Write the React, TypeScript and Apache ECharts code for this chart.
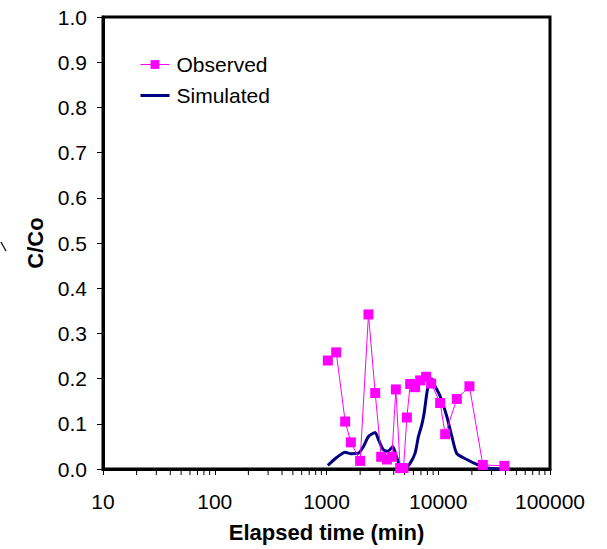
import React, { useEffect, useRef } from "react";
import * as echarts from "echarts";

const observedTime = [1028, 1222, 1469, 1652, 2000, 2375, 2728, 3086, 3470, 3846, 4176, 4563, 4888, 5240, 5610, 6210, 6887, 7795, 8643, 10400, 11530, 14670, 19010, 25060, 39100];
const observedC = [0.240, 0.258, 0.105, 0.059, 0.018, 0.342, 0.168, 0.027, 0.021, 0.027, 0.176, 0.002, 0.002, 0.114, 0.188, 0.181, 0.196, 0.204, 0.189, 0.146, 0.077, 0.155, 0.183, 0.009, 0.007];

const simTime = [1028, 1240, 1469, 1630, 1933, 2143, 2375, 2728, 2918, 3192, 3513, 3926, 4265, 4563, 5060, 5610, 6210, 6650, 7130, 7480, 7910, 8300, 8770, 9380, 10400, 11940, 13240, 14670, 18030, 22150, 27220, 35810];
const simC = [0.008, 0.026, 0.037, 0.034, 0.035, 0.050, 0.072, 0.081, 0.065, 0.044, 0.039, 0.049, 0.024, 0.006, 0.002, 0.013, 0.035, 0.072, 0.098, 0.124, 0.168, 0.194, 0.199, 0.183, 0.161, 0.116, 0.072, 0.034, 0.021, 0.010, 0.002, 0.000];

const minorTickValues = [20, 30, 40, 50, 60, 70, 80, 90, 200, 300, 400, 500, 600, 700, 800, 900, 2000, 3000, 4000, 5000, 6000, 7000, 8000, 9000, 20000, 30000, 40000, 50000, 60000, 70000, 80000, 90000];

const FONT = "Arial, 'Liberation Sans', sans-serif";

export default function App() {
  const ref = useRef<HTMLDivElement>(null);
  useEffect(() => {
    if (!ref.current) return;
    const chart = echarts.init(ref.current, undefined, { renderer: "svg" });
    chart.setOption({
      animation: false,
      backgroundColor: "#fff",
      textStyle: { fontFamily: FONT },
      grid: { left: 103, right: 57, top: 17, bottom: 80, show: true, borderColor: "#000", borderWidth: 3, backgroundColor: "transparent" },
      legend: {
        left: 134,
        top: 49,
        orient: "vertical",
        itemWidth: 29,
        itemHeight: 11,
        itemGap: 10,
        textStyle: { fontSize: 21, color: "#000", fontFamily: FONT, padding: [0, 0, 0, 2] },
        data: [
          { name: "Observed", lineStyle: { width: 1 } },
          { name: "Simulated", lineStyle: { width: 3, color: "#000080" }, itemStyle: { color: "rgba(0,0,0,0)", opacity: 0, borderWidth: 0 } },
        ],
      },
      xAxis: {
        type: "log",
        logBase: 10,
        min: 10,
        max: 100000,
        name: "Elapsed time (min)",
        nameLocation: "middle",
        nameGap: 52,
        nameTextStyle: { fontSize: 22, fontWeight: "bold", color: "#000", fontFamily: FONT },
        axisLine: { show: true, lineStyle: { color: "#000", width: 3 } },
        axisTick: { show: true, inside: false, length: 6, lineStyle: { color: "#000", width: 1 } },
        axisLabel: { fontSize: 21, color: "#000", margin: 22, fontFamily: FONT, formatter: (v: number) => String(Math.round(v)) },
        splitLine: { show: false },
      },
      yAxis: {
        type: "value",
        min: 0,
        max: 1,
        interval: 0.1,
        name: "C/Co",
        nameLocation: "middle",
        nameGap: 57,
        nameTextStyle: { fontSize: 22, fontWeight: "bold", color: "#000", fontFamily: FONT },
        axisLine: { show: true, lineStyle: { color: "#000", width: 3 } },
        axisTick: { show: true, inside: false, length: 6, lineStyle: { color: "#000", width: 1 } },
        axisLabel: { fontSize: 21, color: "#000", margin: 16, fontFamily: FONT, formatter: (v: number) => v.toFixed(1) },
        splitLine: { show: false },
      },
      series: [
        {
          name: "Observed",
          type: "line",
          data: observedTime.map((t, i) => [t, observedC[i]]),
          symbol: "rect",
          symbolSize: 10,
          lineStyle: { color: "#ff00ff", width: 1 },
          itemStyle: { color: "#ff00ff" },
          z: 3,
        },
        {
          name: "Simulated",
          type: "line",
          data: simTime.map((t, i) => [t, simC[i]]),
          symbol: "none",
          smooth: 0.2,
          lineStyle: { color: "#000080", width: 3 },
          itemStyle: { color: "#000080" },
          z: 2,
        },
        {
          type: "custom",
          silent: true,
          clip: false,
          data: minorTickValues.map((v) => [v, 0]),
          renderItem: (params: any, api: any) => {
            const p = api.coord([api.value(0), 0]);
            return {
              type: "line",
              shape: { x1: p[0], y1: p[1] + 1, x2: p[0], y2: p[1] + 6 },
              style: { stroke: "#000", lineWidth: 1 },
            };
          },
          z: 1,
        },
      ],
      graphic: [
        { type: "line", shape: { x1: 1, y1: 242, x2: 6, y2: 251 }, style: { stroke: "#222", lineWidth: 1.5 } },
      ],
    });
    return () => chart.dispose();
  }, []);
  return <div ref={ref} style={{ position: "absolute", left: 0, top: 0, width: 607, height: 549 }} />;
}
